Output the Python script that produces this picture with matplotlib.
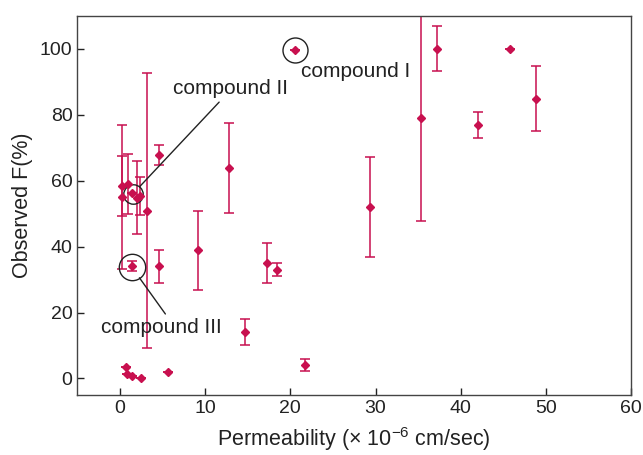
import numpy as np
import matplotlib
matplotlib.use("Agg")
import matplotlib.pyplot as plt

plt.rcParams['font.family'] = ['Liberation Sans', 'DejaVu Sans']
plt.rcParams['mathtext.fontset'] = 'custom'
plt.rcParams['mathtext.rm'] = 'Liberation Sans'

# -----------------------------
# Data
# -----------------------------
permeability = [0.2, 0.25, 0.9, 1.4, 2.0, 2.4, 3.2, 4.6, 1.4, 4.6,
                 9.2, 12.8, 14.7, 17.2, 18.4, 20.5, 21.7, 29.4, 35.3, 37.2,
                 42.0, 45.8, 48.9, 0.7, 0.8, 1.4, 2.5, 5.6]
observed_f = [58.4, 55.1, 59.0, 56.3, 54.9, 55.3, 50.9, 67.8, 34.0, 34.0,
              38.9, 63.9, 14.1, 35.0, 33.0, 99.7, 4.0, 52.1, 78.9, 100.0,
              76.9, 100.0, 84.9, 3.4, 1.4, 0.7, 0.1, 2.1]
f_error = [9.0, 21.8, 9.0, 0.0, 11.0, 5.8, 41.7, 3.0, 1.5, 5.0,
           12.0, 13.7, 4.0, 6.0, 2.0, 0.0, 1.8, 15.2, 31.0, 6.8,
           4.0, 0.0, 9.8, 0.0, 0.0, 0.0, 0.0, 0.0]

# highlighted compounds
compound_names = ["compound I", "compound II", "compound III"]
compound_x = [20.5, 1.5, 1.37]
compound_y = [99.7, 56.0, 33.8]
circle_sizes = [18, 14, 19]

RED = "#c8104f"
INK = "#222222"

fig = plt.figure(figsize=(6.43, 4.55), dpi=100)
ax = fig.add_axes([0.1205, 0.132, 0.8608, 0.833])

ax.errorbar(permeability, observed_f, yerr=f_error, fmt='D', color=RED,
            ms=4.5, elinewidth=1.1, capsize=3.3, capthick=1.1)

# circles round the named compounds
for cx, cy, s in zip(compound_x, compound_y, circle_sizes):
    ax.plot(cx, cy, 'o', mfc='none', mec=INK, ms=s, mew=1.0)

# labels
ax.text(21.2, 93.1, compound_names[0], fontsize=15, color=INK,
        va='center', ha='left')
ax.annotate(compound_names[1], xy=(compound_x[1], compound_y[1]),
            xytext=(13.0, 85.0), fontsize=15, color=INK,
            ha='center', va='bottom',
            arrowprops=dict(arrowstyle='-', color=INK, lw=1.0,
                            relpos=(0.43, 0), shrinkA=1, shrinkB=7))
ax.annotate(compound_names[2], xy=(compound_x[2], compound_y[2]),
            xytext=(4.8, 15.5), fontsize=15, color=INK,
            ha='center', va='center',
            arrowprops=dict(arrowstyle='-', color=INK, lw=1.0,
                            relpos=(0.56, 1), shrinkA=1, shrinkB=9.5))

ax.set_xlim(-5, 60)
ax.set_ylim(-5, 110)
ax.set_xticks(np.arange(0, 61, 10))
ax.set_yticks(np.arange(0, 101, 20))
ax.tick_params(direction='in', length=5, labelsize=14, colors=INK,
               width=1.0)
for sp in ax.spines.values():
    sp.set_color('#444444')
    sp.set_linewidth(1.0)

ax.set_xlabel(r"Permeability ($\times$ 10$^{-6}$ cm/sec)", fontsize=15.5,
              color=INK, labelpad=6)
ax.set_ylabel("Observed F(%)", fontsize=15.5, color=INK, labelpad=5)

plt.savefig("out.png", dpi=100)
